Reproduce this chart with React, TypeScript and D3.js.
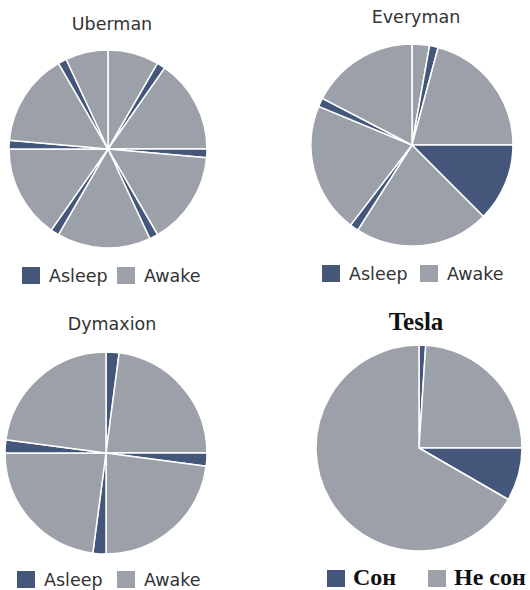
import { useEffect, useRef } from 'react';
import * as d3 from 'd3';

// sleep schedules, minutes across a 24h day, starting at 12 o'clock
const ubermanStates = ['Awake', 'Asleep', 'Awake', 'Asleep', 'Awake', 'Asleep', 'Awake', 'Asleep', 'Awake', 'Asleep', 'Awake', 'Asleep', 'Awake'];
const ubermanMinutes = [120, 20, 220, 20, 220, 20, 220, 20, 220, 20, 220, 20, 100];

const everymanStates = ['Awake', 'Asleep', 'Awake', 'Asleep', 'Awake', 'Asleep', 'Awake', 'Asleep', 'Awake'];
const everymanMinutes = [40, 20, 300, 180, 310, 20, 300, 20, 250];

const dymaxionStates = ['Asleep', 'Awake', 'Asleep', 'Awake', 'Asleep', 'Awake', 'Asleep', 'Awake'];
const dymaxionMinutes = [30, 330, 30, 330, 30, 330, 30, 330];

const teslaStates = ['Сон', 'Не сон', 'Сон', 'Не сон'];
const teslaMinutes = [15, 345, 120, 960];

const legendEn = ['Asleep', 'Awake'];
const legendRu = ['Сон', 'Не сон'];

const SLEEP = '#44577a';
const AWAKE = '#9ca0a8';

type Chart = {
	title: string;
	states: string[];
	minutes: number[];
	legend: string[];
	cx: number;
	cy: number;
	r: number;
	titleX: number;
	titleY: number;
	legendX: number[];
	legendY: number;
	serif: boolean;
};

const charts: Chart[] = [
	{ title: 'Uberman', states: ubermanStates, minutes: ubermanMinutes, legend: legendEn, cx: 108, cy: 149, r: 99, titleX: 112, titleY: 30, legendX: [22, 117], legendY: 267, serif: false },
	{ title: 'Everyman', states: everymanStates, minutes: everymanMinutes, legend: legendEn, cx: 412, cy: 145, r: 101, titleX: 416, titleY: 23, legendX: [322, 420], legendY: 265, serif: false },
	{ title: 'Dymaxion', states: dymaxionStates, minutes: dymaxionMinutes, legend: legendEn, cx: 106, cy: 453, r: 101, titleX: 112, titleY: 330, legendX: [17, 117], legendY: 571, serif: false },
	{ title: 'Tesla', states: teslaStates, minutes: teslaMinutes, legend: legendRu, cx: 419, cy: 448, r: 103, titleX: 416, titleY: 330, legendX: [327, 428], legendY: 570, serif: true },
];

export default function App() {
	const ref = useRef<SVGSVGElement | null>(null);

	useEffect(() => {
		if (!ref.current) return;
		const svg = d3.select(ref.current);
		svg.selectAll('*').remove();

		charts.forEach(c => {
			const color = d3.scaleOrdinal<string, string>().domain(c.legend).range([SLEEP, AWAKE]);
			const slices = c.minutes.map((m, i) => ({ state: c.states[i], minutes: m }));
			const pie = d3.pie<{ state: string; minutes: number }>().sort(null).value(d => d.minutes);
			const arc = d3.arc<d3.PieArcDatum<{ state: string; minutes: number }>>().innerRadius(0).outerRadius(c.r);

			const g = svg.append('g').attr('transform', `translate(${c.cx}, ${c.cy})`);
			g.selectAll('path')
				.data(pie(slices))
				.enter()
				.append('path')
				.attr('d', arc)
				.attr('fill', d => color(d.data.state))
				.attr('stroke', '#fff')
				.attr('stroke-width', 1.5)
				.attr('stroke-linejoin', 'round');

			const font = c.serif ? '"Liberation Serif", serif' : '"DejaVu Sans", sans-serif';
			const ink = c.serif ? '#111' : '#333';

			svg
				.append('text')
				.attr('x', c.titleX)
				.attr('y', c.titleY)
				.attr('text-anchor', 'middle')
				.style('font-family', font)
				.style('font-size', c.serif ? '25px' : '17.5px')
				.style('font-weight', c.serif ? 'bold' : 'normal')
				.style('fill', ink)
				.text(c.title);

			c.legend.forEach((name, i) => {
				const x = c.legendX[i];
				svg
					.append('rect')
					.attr('x', x)
					.attr('y', c.legendY)
					.attr('width', 18)
					.attr('height', 17)
					.attr('fill', color(name));
				svg
					.append('text')
					.attr('x', x + (c.serif ? 26 : 27))
					.attr('y', c.legendY + 15)
					.style('font-family', font)
					.style('font-size', c.serif ? '24px' : '17.5px')
					.style('font-weight', c.serif ? 'bold' : 'normal')
					.style('fill', ink)
					.text(name);
			});
		});
	}, []);

	return (
		<svg
			ref={ref}
			width={530}
			height={590}
			style={{ position: 'absolute', left: 0, top: 0, background: '#fff' }}
		/>
	);
}
